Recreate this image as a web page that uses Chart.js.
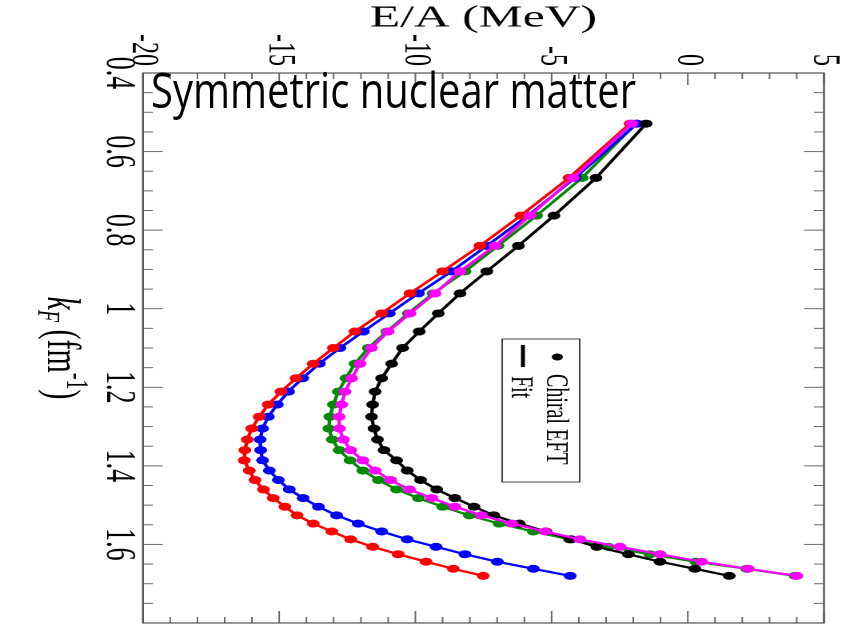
<!DOCTYPE html>
<html><head><meta charset="utf-8">
<script src="https://cdn.jsdelivr.net/npm/chart.js@4.4.0/dist/chart.umd.min.js"></script>
<style>
html,body{margin:0;padding:0;background:#fff;overflow:hidden;width:846px;height:627px;}
#wrap{position:absolute;left:0;top:0;width:627px;height:529px;transform-origin:0 0;transform:translate(846px,0) rotate(90deg) scale(1,1.5992);}
#title{position:absolute;left:151px;top:65px;font-family:"Open Sans";font-size:40px;line-height:40px;color:#000;white-space:nowrap;transform-origin:0 0;transform:scale(1,1.23);}
</style></head><body>
<div id="wrap"><canvas id="c"></canvas></div>
<div id="title">Symmetric nuclear matter</div>
<script>
// Fermi momentum k_F (fm^-1) of each computed point
const kF = [0.529,0.667,0.763,0.840,0.905,0.961,1.012,1.058,1.100,1.140,1.177,1.211,1.244,1.275,1.305,1.333,
            1.360,1.386,1.412,1.436,1.460,1.482,1.504,1.526,1.547,1.567,1.587,1.606,1.625,1.644,1.662,1.680];
// E/A (MeV) for each curve
const eaBlack   = [-1.53,-3.37,-4.91,-6.22,-7.38,-8.36,-9.16,-9.86,-10.47,-10.87,-11.24,-11.48,-11.57,-11.61,-11.52,-11.39,
                   -11.15,-10.69,-10.30,-9.81,-9.22,-8.55,-7.85,-7.12,-6.19,-5.21,-4.29,-3.34,-2.18,-1.02,0.26,1.52];
const eaGreen   = [-1.90,-3.88,-5.55,-6.97,-8.18,-9.35,-10.26,-11.05,-11.73,-12.22,-12.55,-12.83,-13.01,-13.14,-13.18,-13.05,
                   -12.80,-12.40,-11.93,-11.36,-10.69,-9.89,-9.00,-8.02,-6.93,-5.67,-4.35,-2.92,-1.39,0.30,2.16,3.94];
const eaBlue    = [-1.86,-4.14,-5.87,-7.38,-8.67,-9.89,-10.96,-11.91,-12.77,-13.53,-14.14,-14.66,-15.07,-15.40,-15.61,-15.70,
                   -15.68,-15.61,-15.36,-15.03,-14.63,-14.12,-13.56,-12.89,-12.10,-11.24,-10.30,-9.24,-8.18,-6.99,-5.67,-4.32];
const eaRed     = [-2.12,-4.36,-6.13,-7.63,-9.00,-10.20,-11.24,-12.22,-13.01,-13.75,-14.38,-14.93,-15.40,-15.73,-16.01,-16.17,
                   -16.26,-16.28,-16.10,-15.89,-15.58,-15.22,-14.79,-14.34,-13.75,-13.07,-12.38,-11.57,-10.63,-9.61,-8.61,-7.51];
const eaMagenta = [-2.05,-4.21,-5.79,-7.08,-8.36,-9.28,-10.20,-11.00,-11.61,-12.03,-12.34,-12.58,-12.71,-12.80,-12.79,-12.64,
                   -12.38,-11.93,-11.48,-10.91,-10.22,-9.40,-8.55,-7.57,-6.45,-5.24,-3.96,-2.49,-1.02,0.51,2.22,4.00];
const kfTicks = [0.4,0.6,0.8,1,1.2,1.4,1.6];
const eaTicks = [-20,-15,-10,-5,0,5];
const legendLabels = ['Chiral EFT','Fit'];

// first entry is drawn on top
const series = [
  {name:'magenta', data:eaMagenta, color:'#ff00ff'},
  {name:'red', data:eaRed, color:'#ff0000'},
  {name:'black', data:eaBlack, color:'#000000'},
  {name:'blue', data:eaBlue, color:'#0000ff'},
  {name:'green', data:eaGreen, color:'#008a00'}
];

const serif = '"Liberation Serif","Times New Roman",serif';

const framePlugin = {
  id:'frame',
  afterDraw(chart){
    const ctx = chart.ctx, a = chart.chartArea, x = chart.scales.x, y = chart.scales.y;
    ctx.save();
    const line=(x1,y1,x2,y2)=>{ctx.beginPath();ctx.moveTo(x1,y1);ctx.lineTo(x2,y2);ctx.stroke();};
    ctx.strokeStyle='#6a6a6a'; ctx.lineWidth=1;
    for(let v=y.min; v<=y.max; v+=1){
      const py=y.getPixelForValue(v); const len=(v%5===0)?12:6;
      line(a.left,py,a.left+len,py); line(a.right-len,py,a.right,py);
    }
    const nk=Math.round((x.max-x.min)/0.05);
    for(let i=0;i<=nk;i++){
      const px=x.getPixelForValue(x.min+i*0.05); const len=(i%4===0)?12.5:6.25;
      line(px,a.bottom,px,a.bottom-len); line(px,a.top,px,a.top+len);
    }
    ctx.strokeStyle='#555'; ctx.lineWidth=1.2;
    ctx.strokeRect(a.left,a.top,a.right-a.left,a.bottom-a.top);

    // legend
    ctx.strokeStyle='#444'; ctx.lineWidth=1;
    ctx.strokeRect(339,166.5,143,48.5);
    ctx.fillStyle='#000';
    ctx.beginPath(); ctx.arc(357,180.5,3.5,0,Math.PI*2); ctx.fill();
    ctx.strokeStyle='#000'; ctx.lineWidth=2.5; line(345,202,367,202);
    ctx.font='20px '+serif; ctx.textBaseline='alphabetic'; ctx.textAlign='left';
    ctx.fillText(legendLabels[0],374,187);
    ctx.fillText(legendLabels[1],376,209);

    // x-axis title k_F (fm^-1)
    const big='30px '+serif, bigI='italic 30px '+serif, sm='20px '+serif, smI='italic 20px '+serif;
    const parts=[['k',bigI,0],['F',smI,6],[' (fm',big,0],['-1',sm,-12],[')',big,0]];
    let tw=0; parts.forEach(p=>{ctx.font=p[1]; tw+=ctx.measureText(p[0]).width;});
    let cx=(a.left+a.right)/2 - tw/2; const base=499;
    parts.forEach(p=>{ctx.font=p[1]; ctx.fillText(p[0],cx,base+p[2]); cx+=ctx.measureText(p[0]).width;});
    ctx.restore();
  }
};

new Chart(document.getElementById('c'), {
  type:'scatter',
  data:{datasets: series.map(s=>({
    label:s.name,
    data:kF.map((k,i)=>({x:k,y:s.data[i]})),
    showLine:true, borderColor:s.color, backgroundColor:s.color,
    borderWidth:2.2, pointRadius:4, pointBorderWidth:0, pointHoverRadius:4, tension:0
  }))},
  options:{
    responsive:true, maintainAspectRatio:false, animation:false, devicePixelRatio:2,
    events:[],
    layout:{padding:{top:13.76,right:3,left:0,bottom:0}},
    plugins:{legend:{display:false}, tooltip:{enabled:false}},
    scales:{
      x:{type:'linear', position:'bottom', min:0.4, max:1.8,
         grid:{display:false, drawTicks:false}, border:{display:false},
         afterBuildTicks:s=>{s.ticks=kfTicks.map(v=>({value:v}));},
         afterFit:s=>{s.height=89.4; s.paddingLeft=0; s.paddingRight=0; s.paddingTop=0; s.paddingBottom=0;},
         ticks:{font:{family:serif,size:26}, color:'#000', padding:0, maxRotation:0, autoSkip:false, callback:v=>String(v)}
      },
      y:{type:'linear', position:'left', min:-20, max:5,
         grid:{display:false, drawTicks:false}, border:{display:false},
         afterBuildTicks:s=>{s.ticks=eaTicks.map(v=>({value:v}));},
         afterFit:s=>{s.width=73; s.paddingLeft=0; s.paddingRight=0; s.paddingTop=0; s.paddingBottom=0;},
         ticks:{font:{family:serif,size:24}, color:'#000', padding:7, autoSkip:false, callback:v=>String(v)},
         title:{display:true, text:'E/A (MeV)', font:{family:serif,size:31}, color:'#000', padding:0}
      }
    }
  },
  plugins:[framePlugin]
});
</script>
</body></html>
